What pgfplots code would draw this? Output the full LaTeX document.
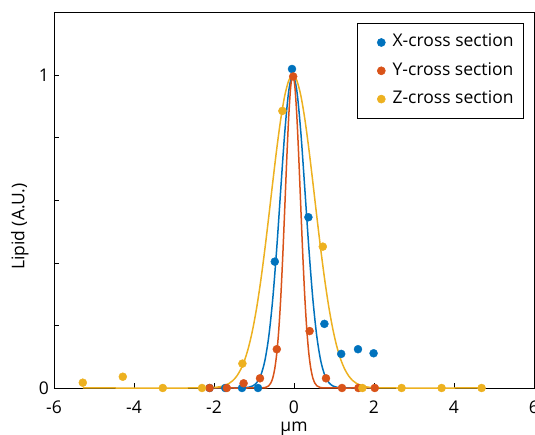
\documentclass[border=0pt]{standalone}
\usepackage{fontspec}
\setmainfont{Open Sans}
\usepackage{pgfplots}
\pgfplotsset{compat=1.18}

\definecolor{mblue}{RGB}{0,114,189}
\definecolor{mred}{RGB}{217,83,25}
\definecolor{myellow}{RGB}{237,177,32}

\begin{document}
\begin{tikzpicture}
  \begin{axis}[
      at={(0,0)}, anchor=south west,
      scale only axis,
      width=480pt, height=375.3pt,
      xmin=-6, xmax=6, ymin=0, ymax=1.2,
      xtick={-6,-4,-2,0,2,4,6},
      xticklabels={-6,-4,-2,0,2,4,6},
      ytick={0,0.2,0.4,0.6,0.8,1,1.2},
      yticklabels={0,,,,,1,},
      xtick pos=bottom, ytick pos=left,
      tick align=inside,
      major tick length=5pt,
      tick style={black, line width=0.6pt},
      axis line style={black, line width=0.6pt},
      ticklabel style={font=\fontsize{17.5}{21}\selectfont},
      xticklabel style={yshift=-9pt},
      yticklabel style={xshift=-1.5pt},
      label style={font=\fontsize{17.5}{21}\selectfont},
      xlabel={µm},
      ylabel={Lipid (A.U.)},
      xlabel style={at={(axis description cs:0.5,0)}, anchor=north, yshift=-30pt},
      ylabel style={at={(axis description cs:-0.071,0.43)}, anchor=center},
      clip=false,
      legend style={
        at={(axis description cs:1,1)}, anchor=north east,
        xshift=-10pt, yshift=-10.5pt,
        font=\fontsize{17.5}{21}\selectfont,
        draw=black, line width=0.6pt,
        inner xsep=8pt, inner ysep=8.5pt,
        row sep=7.3pt,
        nodes={text height=13pt, text depth=4pt},
        legend cell align=left,
      },
      legend image code/.code={%
        \path (-16pt,0) (9pt,0);
        \draw[#1, draw=none] plot coordinates {(0pt,0pt)};},
    ]
    % data points
    \addplot[only marks, mark=*, mark size=4pt, color=mblue, mark options={draw=none, fill=mblue}] coordinates {
      (-2.11,0) (-1.72,0) (-1.30,0) (-0.90,0) (-0.48,0.404) (-0.05,1.02)
      (0.36,0.546) (0.76,0.205) (1.18,0.109) (1.60,0.124) (1.99,0.111)
    };
    \addlegendentry{X-cross section}
    \addplot[only marks, mark=*, mark size=4pt, color=mred, mark options={draw=none, fill=mred}] coordinates {
      (-2.11,0) (-1.68,0) (-1.26,0.015) (-0.85,0.031) (-0.43,0.124) (-0.02,0.996)
      (0.39,0.182) (0.80,0.031) (1.20,0) (1.61,0) (2.02,0)
    };
    \addlegendentry{Y-cross section}
    \addplot[only marks, mark=*, mark size=4pt, color=myellow, mark options={draw=none, fill=myellow}] coordinates {
      (-5.28,0.017) (-4.28,0.036) (-3.28,0) (-2.30,0) (-1.29,0.078) (-0.29,0.886)
      (0.72,0.452) (1.71,0) (2.69,0) (3.69,0) (4.69,0)
    };
    \addlegendentry{Z-cross section}
    % fitted curves
    \addplot[forget plot, smooth, color=mblue, line width=1.5pt] coordinates {
      (-2.11,0) (-1.43,0) (-1.33,0.0002) (-1.23,0.0007) (-1.13,0.0024) (-1.03,0.0067)
      (-0.93,0.0174) (-0.83,0.0408) (-0.73,0.0863) (-0.63,0.1653) (-0.53,0.2865)
      (-0.43,0.4493) (-0.33,0.6376) (-0.23,0.8187) (-0.13,0.9512) (-0.03,1)
      (0.07,0.9512) (0.17,0.8187) (0.27,0.6376) (0.37,0.4493) (0.47,0.2865)
      (0.57,0.1653) (0.67,0.0863) (0.77,0.0408) (0.87,0.0174) (0.97,0.0067)
      (1.07,0.0024) (1.17,0.0007) (1.27,0.0002) (1.37,0) (1.99,0)
    };
    \addplot[forget plot, smooth, color=mred, line width=1.5pt] coordinates {
      (-2.11,0) (-0.93,0) (-0.83,0.0002) (-0.73,0.0012) (-0.63,0.0072) (-0.58,0.0159)
      (-0.53,0.0326) (-0.48,0.0624) (-0.43,0.1117) (-0.38,0.1867) (-0.33,0.2914)
      (-0.28,0.4248) (-0.23,0.5781) (-0.18,0.7348) (-0.13,0.872) (-0.08,0.9663)
      (-0.03,1) (0.02,0.9663) (0.07,0.872) (0.12,0.7348) (0.17,0.5781)
      (0.22,0.4248) (0.27,0.2914) (0.32,0.1867) (0.37,0.1117) (0.42,0.0624)
      (0.47,0.0326) (0.52,0.0159) (0.57,0.0072) (0.67,0.0012) (0.77,0.0002)
      (0.87,0) (2.02,0)
    };
    \addplot[forget plot, smooth, color=myellow, line width=1.5pt] coordinates {
      (-5.28,0) (-2.43,0) (-2.23,0.0003) (-2.03,0.0013) (-1.83,0.0045) (-1.63,0.014)
      (-1.53,0.0235) (-1.43,0.0381) (-1.33,0.0598) (-1.23,0.0907) (-1.13,0.1331)
      (-1.03,0.1889) (-0.93,0.2592) (-0.83,0.3442) (-0.73,0.4419) (-0.63,0.5488)
      (-0.53,0.6592) (-0.43,0.7659) (-0.33,0.8607) (-0.23,0.9355) (-0.13,0.9835)
      (-0.03,1) (0.07,0.9835) (0.17,0.9355) (0.27,0.8607) (0.37,0.7659)
      (0.47,0.6592) (0.57,0.5488) (0.67,0.4419) (0.77,0.3442) (0.87,0.2592)
      (0.97,0.1889) (1.07,0.1331) (1.17,0.0907) (1.27,0.0598) (1.37,0.0381)
      (1.47,0.0235) (1.57,0.014) (1.77,0.0045) (1.97,0.0013) (2.17,0.0003)
      (2.37,0) (4.69,0)
    };
  \end{axis}
  \pgfresetboundingbox
  \path (-54pt,-47pt) rectangle (481pt,388pt);
\end{tikzpicture}
\end{document}
